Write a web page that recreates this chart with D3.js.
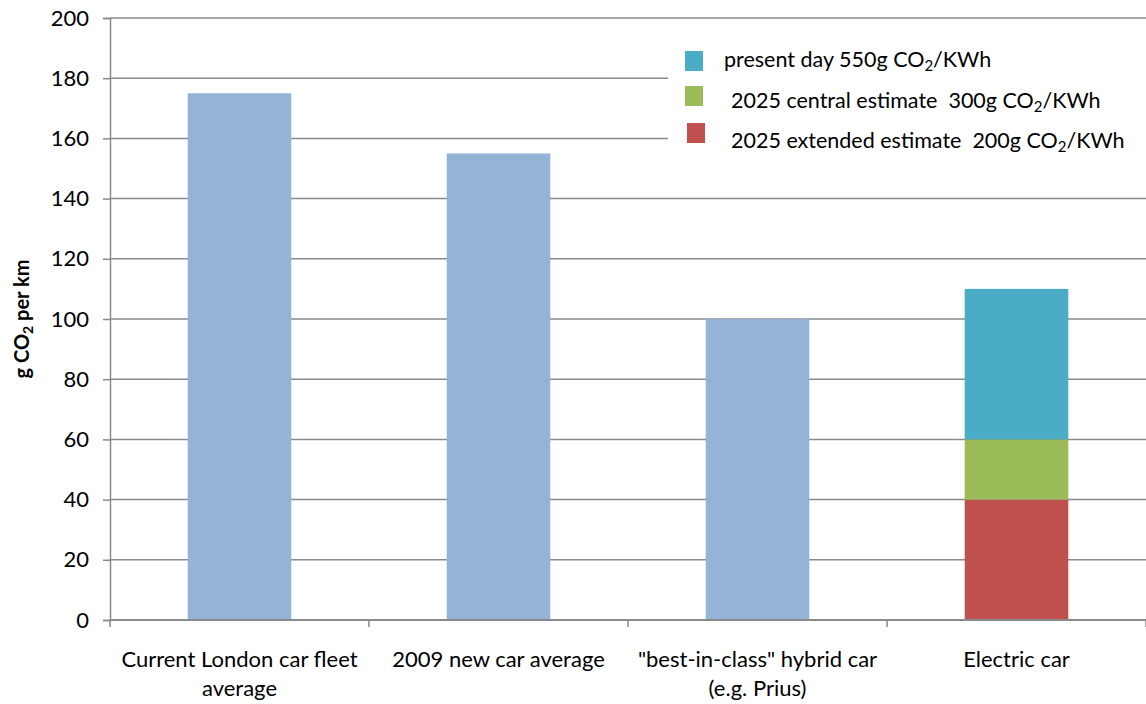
<!DOCTYPE html>
<html>
<head>
<meta charset="utf-8">
<script src="https://cdn.jsdelivr.net/npm/d3@7"></script>
<style>
  html, body { margin: 0; padding: 0; background: #fff; }
  svg text { font-family: Lato, "Open Sans", sans-serif; fill: #000; }
</style>
</head>
<body>
<svg id="chart" width="1146" height="704"></svg>
<script>
// Emissions per km for each car type
const categories = [
  ["Current London car fleet", "average"],
  ["2009 new car average"],
  ["\"best-in-class\" hybrid car", "(e.g. Prius)"],
  ["Electric car"]
];
const baseValues = [175, 155, 100, null];
// Electric car stacked segments (bottom to top)
const seriesNames = [
  "2025 extended estimate  200g",
  "2025 central estimate  300g",
  "present day 550g"
];
const electricSegments = [40, 20, 50];
const yTicks = [0, 20, 40, 60, 80, 100, 120, 140, 160, 180, 200];

const colors = {
  base: "#95B3D7",
  seg: ["#C0504D", "#9BBB59", "#4BACC6"]
};
const gridColor = "#8a8a8a";
const fontSize = 22;

const svg = d3.select("#chart");
const margin = { left: 110, right: 0, top: 18, bottom: 84 };
const W = 1146, H = 704;
const x0 = margin.left, x1 = W - margin.right;
const yBottom = H - margin.bottom, yTop = margin.top;

const x = d3.scaleBand()
  .domain(d3.range(categories.length))
  .range([x0, x1])
  .paddingInner(0.6)
  .paddingOuter(0.3);
const y = d3.scaleLinear().domain([0, 200]).range([yBottom, yTop]);

// gridlines
svg.append("g")
  .selectAll("line")
  .data(yTicks.filter(d => d > 0))
  .join("line")
  .attr("x1", x0).attr("x2", x1)
  .attr("y1", d => y(d)).attr("y2", d => y(d))
  .attr("stroke", gridColor).attr("stroke-width", 1.5);

// plain bars
svg.append("g")
  .selectAll("rect")
  .data(baseValues.map((v, i) => ({ v, i })).filter(d => d.v != null))
  .join("rect")
  .attr("x", d => x(d.i))
  .attr("width", x.bandwidth())
  .attr("y", d => y(d.v))
  .attr("height", d => y(0) - y(d.v))
  .attr("fill", colors.base);

// stacked electric bar
const stack = d3.stack().keys(d3.range(electricSegments.length))([electricSegments]);
svg.append("g")
  .selectAll("rect")
  .data(stack)
  .join("rect")
  .attr("x", x(3))
  .attr("width", x.bandwidth())
  .attr("y", s => y(s[0][1]))
  .attr("height", s => y(s[0][0]) - y(s[0][1]))
  .attr("fill", (s, i) => colors.seg[i]);

// y axis
const yAxis = d3.axisLeft(y).tickValues(yTicks).tickSize(7).tickPadding(14);
const gy = svg.append("g").attr("transform", `translate(${x0},0)`).call(yAxis);
gy.select(".domain").attr("stroke", gridColor).attr("stroke-width", 1.5);
gy.selectAll(".tick line").attr("stroke", gridColor).attr("stroke-width", 1.5);
gy.selectAll(".tick text").attr("font-size", fontSize).attr("font-family", "Lato, sans-serif").attr("fill", "#000");

// x axis
const gx = svg.append("g").attr("transform", `translate(0,${yBottom})`);
gx.append("line").attr("x1", x0).attr("x2", x1).attr("y1", 0).attr("y2", 0)
  .attr("stroke", gridColor).attr("stroke-width", 2);
const boundaries = d3.range(categories.length + 1).map(i => x0 + i * (x1 - x0) / categories.length);
gx.selectAll("line.tk").data(boundaries).join("line").attr("class", "tk")
  .attr("x1", d => d).attr("x2", d => d).attr("y1", 0).attr("y2", 7)
  .attr("stroke", gridColor).attr("stroke-width", 1.5);

const labels = gx.selectAll("text.cat").data(categories).join("text").attr("class", "cat")
  .attr("text-anchor", "middle")
  .attr("font-size", fontSize)
  .attr("x", (d, i) => x(i) + x.bandwidth() / 2)
  .attr("y", 47);
labels.selectAll("tspan").data(d => d).join("tspan")
  .attr("x", function () { return d3.select(this.parentNode).attr("x"); })
  .attr("dy", (d, i) => i === 0 ? 0 : 29)
  .text(d => d);

// y axis title
const yt = svg.append("text")
  .attr("transform", `translate(29,${(yTop + yBottom) / 2}) rotate(-90)`)
  .attr("text-anchor", "middle")
  .attr("font-size", 20)
  .attr("font-weight", "bold");
yt.append("tspan").text("g CO");
yt.append("tspan").text("2").attr("font-size", 14).attr("dy", 4);
yt.append("tspan").text(" per km").attr("dy", -4);

// legend
const legend = svg.append("g");
legend.append("rect").attr("x", 668).attr("y", 32).attr("width", 478).attr("height", 128).attr("fill", "#fff");
const legendItems = [
  { name: seriesNames[2], color: colors.seg[2], sx: 685, sy: 51, tx: 724, ty: 67 },
  { name: seriesNames[1], color: colors.seg[1], sx: 685, sy: 86, tx: 731, ty: 108 },
  { name: seriesNames[0], color: colors.seg[0], sx: 687, sy: 123, tx: 731, ty: 148 }
];
const li = legend.selectAll("g").data(legendItems).join("g");
li.append("rect").attr("x", d => d.sx).attr("y", d => d.sy).attr("width", 18).attr("height", 20).attr("fill", d => d.color);
const lt = li.append("text").attr("x", d => d.tx).attr("y", d => d.ty).attr("font-size", 21.5)
  .style("white-space", "pre");
lt.append("tspan").text(d => d.name + " CO");
lt.append("tspan").text("2").attr("font-size", 15).attr("dy", 4);
lt.append("tspan").text("/KWh").attr("dy", -4);
</script>
</body>
</html>
